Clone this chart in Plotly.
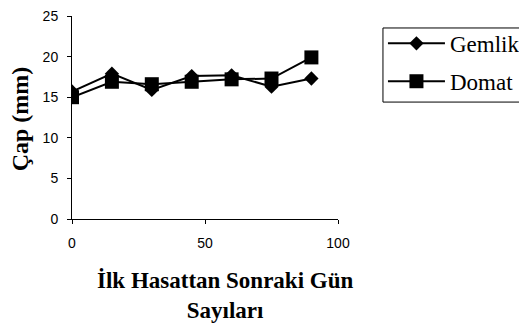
import plotly.graph_objects as go

days = [0, 15, 30, 45, 60, 75, 90]
gemlik = [15.7, 17.9, 15.9, 17.6, 17.7, 16.3, 17.3]
domat = [15.0, 16.9, 16.6, 16.9, 17.2, 17.3, 19.9]

fig = go.Figure()
fig.add_trace(go.Scatter(x=days, y=gemlik, name="Gemlik", mode="lines+markers",
                         legendgroup="g",
                         line=dict(color="black", width=2),
                         marker=dict(symbol="diamond", size=11, color="black")))
fig.add_trace(go.Scatter(x=days, y=domat, name="Domat", mode="lines+markers",
                         legendgroup="d",
                         line=dict(color="black", width=2),
                         marker=dict(symbol="square", size=14, color="black")))

fig.update_layout(
    width=527, height=325,
    margin=dict(l=64, r=197, t=8, b=114),
    plot_bgcolor="white", paper_bgcolor="white",
    showlegend=True,
    legend=dict(x=1.169, y=0.971, xanchor="left", yanchor="top",
                borderwidth=0, bgcolor="rgba(0,0,0,0)",
                font=dict(family="Liberation Serif", size=23, color="black"),
                tracegroupgap=5, itemwidth=57),
    shapes=[dict(type="rect", xref="paper", yref="paper",
                 x0=1.169, x1=1.75, y0=0.576, y1=0.941,
                 line=dict(color="black", width=1), fillcolor="rgba(0,0,0,0)")],
    xaxis=dict(range=[0, 100], tickvals=[0, 50, 100], showgrid=False, zeroline=False,
               showline=True, linecolor="black", linewidth=1, ticks="outside",
               ticklen=4, tickcolor="black", automargin=False, ticklabelstandoff=7,
               ticklabeloverflow="allow",
               tickfont=dict(family="Liberation Sans", size=14, color="black")),
    yaxis=dict(range=[0, 25], tickvals=[0, 5, 10, 15, 20, 25], showgrid=False, zeroline=False,
               showline=True, linecolor="black", linewidth=1, ticks="outside",
               ticklen=4, tickcolor="black", automargin=False, ticklabelstandoff=6,
               ticklabeloverflow="allow",
               tickfont=dict(family="Liberation Sans", size=14, color="black")),
    annotations=[
        dict(text="<b>Çap (mm)</b>", textangle=-90, xref="paper", yref="paper",
             x=-0.194, y=0.493, xanchor="center", yanchor="middle", showarrow=False,
             font=dict(family="Liberation Serif", size=24, color="black")),
        dict(text="<b>İlk Hasattan Sonraki Gün<br>Sayıları</b>", xref="paper", yref="paper",
             x=0.575, y=-0.375, xanchor="center", yanchor="middle", showarrow=False,
             font=dict(family="Liberation Serif", size=23, color="black")),
    ],
)

fig.write_html("out.html", config={"displayModeBar": False})
